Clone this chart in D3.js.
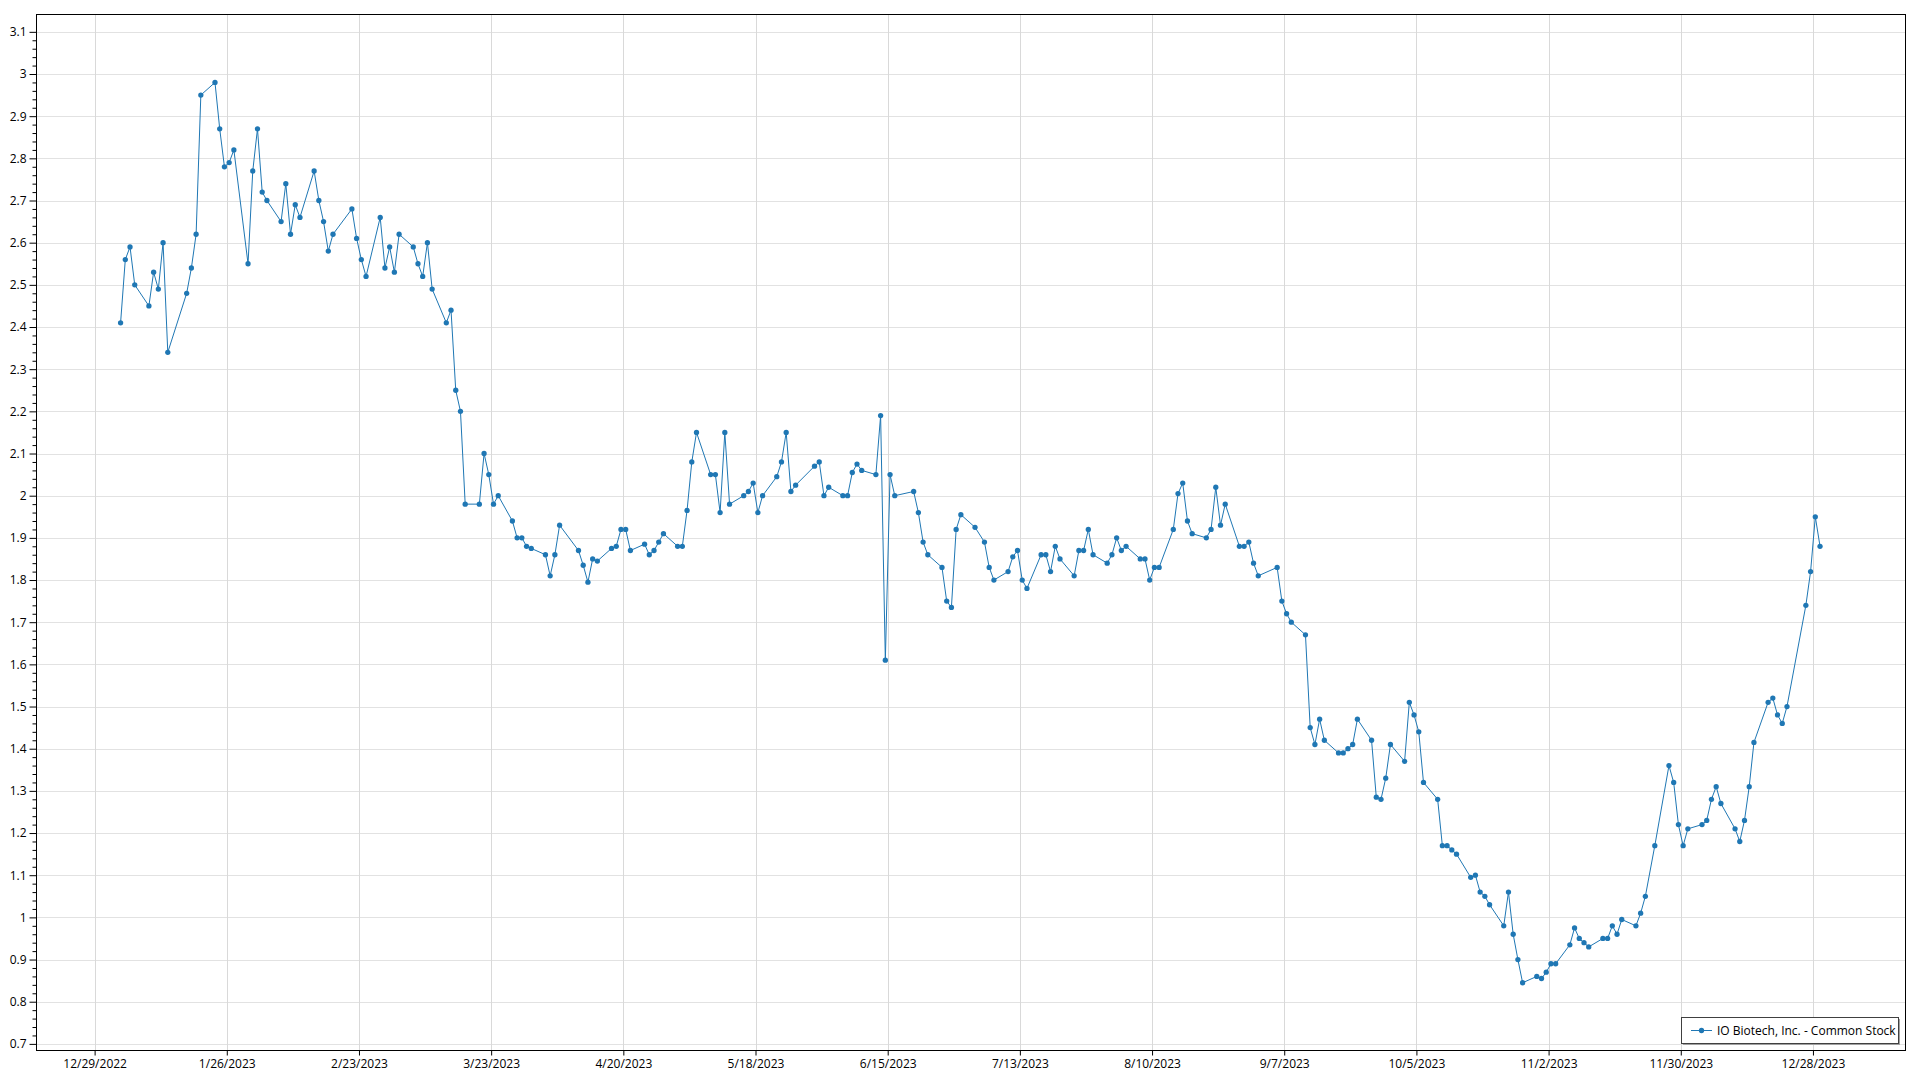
<!DOCTYPE html>
<html><head><meta charset="utf-8">
<script src="https://cdn.jsdelivr.net/npm/d3@7"></script>
<style>
html,body{margin:0;padding:0;background:#fff;}
svg{display:block;font-family:"Open Sans","Noto Sans",sans-serif;}
</style></head><body>
<svg id="chart" width="1920" height="1080"></svg>
<script>
const seriesName = "IO Biotech, Inc. - Common Stock";

// trading dates (2023, MM-DD)
const dates = [
"01-03","01-04","01-05","01-06","01-09","01-10","01-11","01-12","01-13","01-17","01-18","01-19","01-20","01-23","01-24","01-25","01-26","01-27","01-30","01-31",
"02-01","02-02","02-03","02-06","02-07","02-08","02-09","02-10","02-13","02-14","02-15","02-16","02-17","02-21","02-22","02-23","02-24","02-27","02-28",
"03-01","03-02","03-03","03-06","03-07","03-08","03-09","03-10","03-13","03-14","03-15","03-16","03-17","03-20","03-21","03-22","03-23","03-24","03-27","03-28","03-29","03-30","03-31",
"04-03","04-04","04-05","04-06","04-10","04-11","04-12","04-13","04-14","04-17","04-18","04-19","04-20","04-21","04-24","04-25","04-26","04-27","04-28",
"05-01","05-02","05-03","05-04","05-05","05-08","05-09","05-10","05-11","05-12","05-15","05-16","05-17","05-18","05-19","05-22","05-23","05-24","05-25","05-26","05-30","05-31",
"06-01","06-02","06-05","06-06","06-07","06-08","06-09","06-12","06-13","06-14","06-15","06-16","06-20","06-21","06-22","06-23","06-26","06-27","06-28","06-29","06-30",
"07-03","07-05","07-06","07-07","07-10","07-11","07-12","07-13","07-14","07-17","07-18","07-19","07-20","07-21","07-24","07-25","07-26","07-27","07-28","07-31",
"08-01","08-02","08-03","08-04","08-07","08-08","08-09","08-10","08-11","08-14","08-15","08-16","08-17","08-18","08-21","08-22","08-23","08-24","08-25","08-28","08-29","08-30","08-31",
"09-01","09-05","09-06","09-07","09-08","09-11","09-12","09-13","09-14","09-15","09-18","09-19","09-20","09-21","09-22","09-25","09-26","09-27","09-28","09-29",
"10-02","10-03","10-04","10-05","10-06","10-09","10-10","10-11","10-12","10-13","10-16","10-17","10-18","10-19","10-20","10-23","10-24","10-25","10-26","10-27","10-30","10-31",
"11-01","11-02","11-03","11-06","11-07","11-08","11-09","11-10","11-13","11-14","11-15","11-16","11-17","11-20","11-21","11-22","11-24","11-27","11-28","11-29","11-30",
"12-01","12-04","12-05","12-06","12-07","12-08","12-11","12-12","12-13","12-14","12-15","12-18","12-19","12-20","12-21","12-22","12-26","12-27","12-28","12-29"
];

const closes = [
2.41,2.56,2.59,2.50,2.45,2.53,2.49,2.60,2.34,2.48,2.54,2.62,2.95,2.98,2.87,2.78,2.79,2.82,2.55,2.77,
2.87,2.72,2.70,2.65,2.74,2.62,2.69,2.66,2.77,2.70,2.65,2.58,2.62,2.68,2.61,2.56,2.52,2.66,2.54,
2.59,2.53,2.62,2.59,2.55,2.52,2.60,2.49,2.41,2.44,2.25,2.20,1.98,1.98,2.10,2.05,1.98,2.00,1.94,1.90,1.90,1.88,1.875,
1.86,1.81,1.86,1.93,1.87,1.835,1.795,1.85,1.845,1.875,1.88,1.92,1.92,1.87,1.885,1.86,1.87,1.89,1.91,
1.88,1.88,1.965,2.08,2.15,2.05,2.05,1.96,2.15,1.98,2.00,2.01,2.03,1.96,2.00,2.045,2.08,2.15,2.01,2.025,2.07,2.08,
2.00,2.02,2.00,2.00,2.055,2.075,2.06,2.05,2.19,1.61,2.05,2.00,2.01,1.96,1.89,1.86,1.83,1.75,1.735,1.92,1.955,
1.925,1.89,1.83,1.80,1.82,1.855,1.87,1.80,1.78,1.86,1.86,1.82,1.88,1.85,1.81,1.87,1.87,1.92,1.86,1.84,
1.86,1.90,1.87,1.88,1.85,1.85,1.80,1.83,1.83,1.92,2.005,2.03,1.94,1.91,1.90,1.92,2.02,1.93,1.98,1.88,1.88,1.89,1.84,
1.81,1.83,1.75,1.72,1.70,1.67,1.45,1.41,1.47,1.42,1.39,1.39,1.40,1.41,1.47,1.42,1.285,1.28,1.33,1.41,
1.37,1.51,1.48,1.44,1.32,1.28,1.17,1.17,1.16,1.15,1.095,1.10,1.06,1.05,1.03,0.98,1.06,0.96,0.90,0.845,0.86,0.855,
0.87,0.89,0.89,0.935,0.975,0.95,0.94,0.93,0.95,0.95,0.98,0.96,0.995,0.98,1.01,1.05,1.17,1.36,1.32,1.22,1.17,
1.21,1.22,1.23,1.28,1.31,1.27,1.21,1.18,1.23,1.31,1.415,1.51,1.52,1.48,1.46,1.50,1.74,1.82,1.95,1.88
];

const xTickLabels = ["12/29/2022","1/26/2023","2/23/2023","3/23/2023","4/20/2023","5/18/2023","6/15/2023",
  "7/13/2023","8/10/2023","9/7/2023","10/5/2023","11/2/2023","11/30/2023","12/28/2023"];
const yTicks = [0.7,0.8,0.9,1,1.1,1.2,1.3,1.4,1.5,1.6,1.7,1.8,1.9,2,2.1,2.2,2.3,2.4,2.5,2.6,2.7,2.8,2.9,3,3.1];

const color = "#1f77b4";
const L = 36, R = 1905, T = 14, B = 1050;

const parseTick = d3.timeParse("%m/%d/%Y");
const parseDay = d3.timeParse("%Y-%m-%d %H");
const data = dates.map((d, i) => ({ date: parseDay("2023-" + d + " 12"), v: closes[i] }));
const tickDates = xTickLabels.map(parseTick);

const x = d3.scaleTime()
  .domain([new Date(2022, 11, 16, 14), new Date(2024, 0, 16, 12)])
  .range([L, R]);
const y = d3.scaleLinear().domain([0.6855, 3.1423]).range([B, T]);

const svg = d3.select("#chart");

// gridlines
svg.append("g").selectAll("line").data(yTicks).join("line")
  .attr("x1", L).attr("x2", R)
  .attr("y1", d => Math.round(y(d)) + 0.5).attr("y2", d => Math.round(y(d)) + 0.5)
  .attr("stroke", "#e2e2e2").attr("stroke-width", 1);
svg.append("g").selectAll("line").data(tickDates).join("line")
  .attr("y1", T).attr("y2", B)
  .attr("x1", d => Math.round(x(d)) + 0.5).attr("x2", d => Math.round(x(d)) + 0.5)
  .attr("stroke", "#d9d9d9").attr("stroke-width", 1);

// frame
svg.append("rect").attr("x", L + 0.5).attr("y", T + 0.5)
  .attr("width", R - L).attr("height", B - T)
  .attr("fill", "none").attr("stroke", "#000").attr("stroke-width", 1);

// y axis
const minorTicks = d3.range(35, 156).map(i => i / 50).filter(v => Math.abs(v * 10 - Math.round(v * 10)) > 1e-6);
const yMinor = svg.append("g").attr("transform", `translate(${L + 0.5},0)`)
  .call(d3.axisLeft(y).tickValues(minorTicks).tickSize(4).tickFormat(""));
yMinor.select(".domain").remove();
const yAx = svg.append("g").attr("transform", `translate(${L + 0.5},0)`)
  .call(d3.axisLeft(y).tickValues(yTicks).tickSize(7).tickPadding(3).tickFormat(d3.format("~g")));
yAx.select(".domain").remove();
svg.selectAll(".tick line").attr("stroke", "#000");
yAx.selectAll("text").attr("font-size", 12).attr("fill", "#000").attr("font-family", "'Open Sans',sans-serif");

// x axis
const xAx = svg.append("g").attr("transform", `translate(0,${B + 0.5})`)
  .call(d3.axisBottom(x).tickValues(tickDates).tickSize(5).tickPadding(4)
    .tickFormat((d, i) => xTickLabels[i]));
xAx.select(".domain").remove();
xAx.selectAll(".tick line").attr("stroke", "#000");
xAx.selectAll("text").attr("font-size", 12).attr("fill", "#000").attr("font-family", "'Open Sans',sans-serif");

// series
const line = d3.line().x(d => x(d.date)).y(d => y(d.v));
svg.append("path").datum(data).attr("d", line)
  .attr("fill", "none").attr("stroke", color).attr("stroke-width", 1);
svg.append("g").selectAll("circle").data(data).join("circle")
  .attr("cx", d => x(d.date)).attr("cy", d => y(d.v)).attr("r", 2.65)
  .attr("fill", color);

// legend
const lg = svg.append("g").attr("transform", "translate(1681,1017)");
lg.append("rect").attr("x", 2).attr("y", 2).attr("width", 217).attr("height", 26).attr("fill", "#a0a0a0");
lg.append("rect").attr("x", 0.5).attr("y", 0.5).attr("width", 217).attr("height", 26)
  .attr("fill", "#fff").attr("stroke", "#404040").attr("stroke-width", 1);
lg.append("line").attr("x1", 10).attr("x2", 31).attr("y1", 13.5).attr("y2", 13.5)
  .attr("stroke", color).attr("stroke-width", 1);
lg.append("circle").attr("cx", 20.5).attr("cy", 13.5).attr("r", 2.65).attr("fill", color);
lg.append("text").attr("x", 36).attr("y", 18).attr("font-size", 12).attr("fill", "#000")
  .text(seriesName);
</script>
</body></html>
